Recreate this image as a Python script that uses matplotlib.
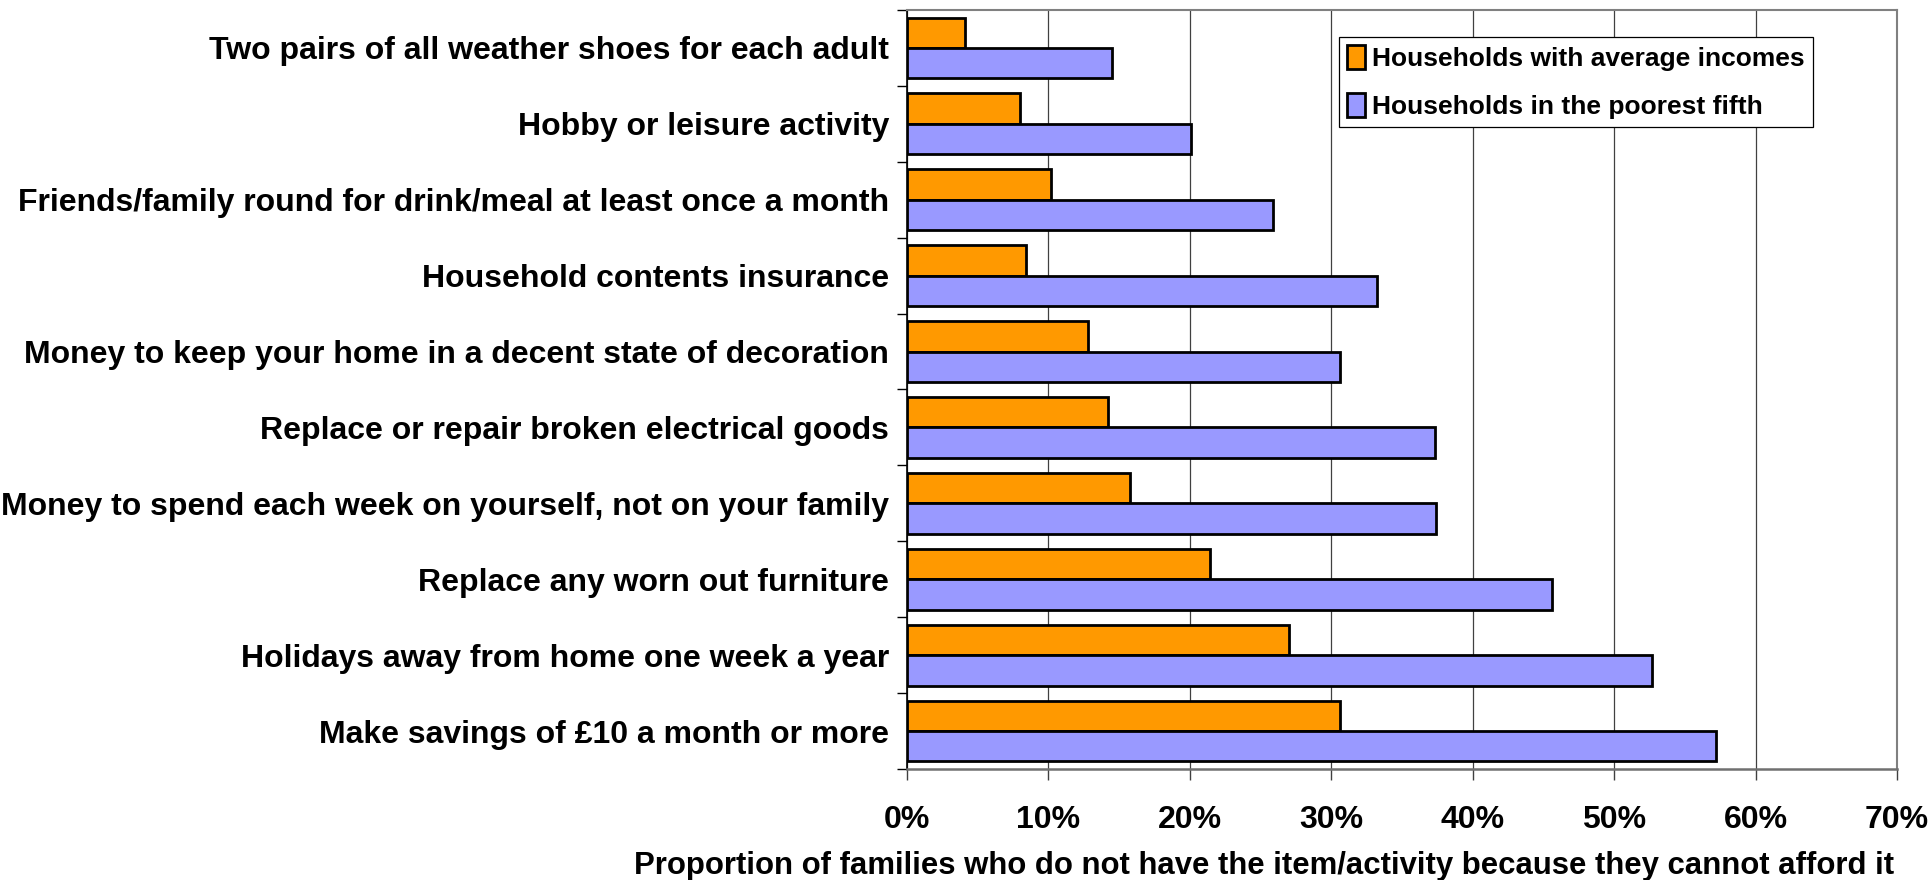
import numpy as np
import matplotlib
matplotlib.use("Agg")
import matplotlib.pyplot as plt

plt.rcParams['font.family'] = ['Liberation Sans', 'DejaVu Sans']
plt.rcParams['font.weight'] = 'bold'

items = [
    "Two pairs of all weather shoes for each adult",
    "Hobby or leisure activity",
    "Friends/family round for drink/meal at least once a month",
    "Household contents insurance",
    "Money to keep your home in a decent state of decoration",
    "Replace or repair broken electrical goods",
    "Money to spend each week on yourself, not on your family",
    "Replace any worn out furniture",
    "Holidays away from home one week a year",
    "Make savings of £10 a month or more",
]
average_incomes = [4.1, 8.0, 10.2, 8.4, 12.8, 14.2, 15.8, 21.4, 27.0, 30.6]
poorest_fifth = [14.5, 20.1, 25.9, 33.2, 30.6, 37.3, 37.4, 45.6, 52.7, 57.2]
series_names = ["Households with average incomes", "Households in the poorest fifth"]
xticks = [0, 10, 20, 30, 40, 50, 60, 70]
xlabel = "Proportion of families who do not have the item/activity because they cannot afford it"

fig = plt.figure(figsize=(19.31, 8.80), dpi=100)
ax = fig.add_axes([907 / 1931, 1 - 769 / 880, (1897 - 907) / 1931, (769 - 10) / 880])

y = np.arange(len(items))
h = 0.4
ax.barh(y - h / 2, average_incomes, height=h, color='#FF9900', edgecolor='black',
        linewidth=2.0, label=series_names[0], zorder=3)
ax.barh(y + h / 2, poorest_fifth, height=h, color='#9999FF', edgecolor='black',
        linewidth=2.0, label=series_names[1], zorder=3)

ax.set_xlim(0, 70)
ax.set_ylim(len(items) - 0.5, -0.5)

# category boundaries get the tick marks, names sit in between
ax.set_yticks(np.arange(len(items) + 1) - 0.5)
ax.set_yticklabels([])
ax.set_yticks(y, items, minor=True)
ax.tick_params(axis='y', which='major', length=7, width=1, color='black')
ax.tick_params(axis='y', which='minor', length=0, pad=13, labelsize=23)

ax.set_xticks(xticks, [f"{v}%" for v in xticks])
ax.tick_params(axis='x', length=8, width=1, color='#404040', pad=18, labelsize=23)

ax.grid(axis='x', color='#404040', linewidth=0.9, zorder=0)
ax.set_axisbelow(True)

for side in ('top', 'right'):
    ax.spines[side].set_color('#808080')
    ax.spines[side].set_linewidth(1.5)
ax.spines['left'].set_color('black')
ax.spines['left'].set_linewidth(1.2)
ax.spines['bottom'].set_color('#707070')
ax.spines['bottom'].set_linewidth(1.8)

leg = ax.legend(loc='upper left', bbox_to_anchor=((1339 - 907) / 990, 1 - 27 / 759),
                fontsize=19, frameon=True, fancybox=False, framealpha=1,
                edgecolor='black', handlelength=0.7, handleheight=1.0,
                handletextpad=0.25, borderpad=0.3, labelspacing=0.85, borderaxespad=0)
leg.get_frame().set_linewidth(0.9)
for patch in leg.get_patches():
    patch.set_linewidth(2.0)

fig.text(1894 / 1931, 1 - 866 / 880, xlabel, ha='right', va='center',
         fontsize=22.4, fontweight='bold')

fig.savefig("out.png", dpi=100, facecolor='white')
